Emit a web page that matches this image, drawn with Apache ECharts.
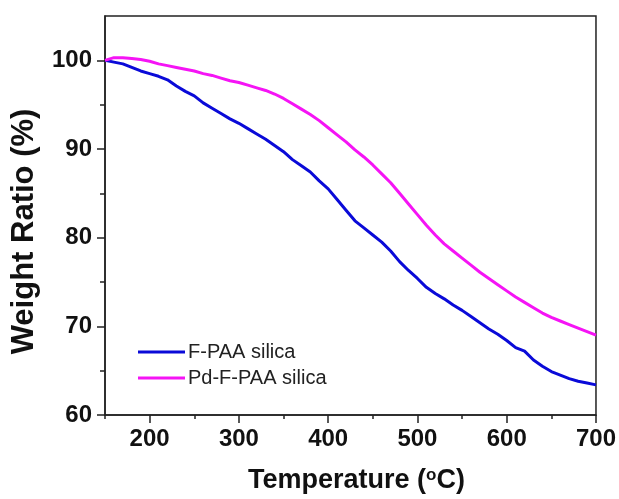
<!DOCTYPE html>
<html>
<head>
<meta charset="utf-8">
<script src="https://cdn.jsdelivr.net/npm/echarts@6/dist/echarts.min.js"></script>
<style>
  html, body { margin: 0; padding: 0; background: #fff; }
  #myChart { width: 619px; height: 499px; }
</style>
</head>
<body>
<div id="myChart"></div>
<script>
  // 温度 (°C)
  var temps = [150, 160, 170, 180, 190, 200, 210, 220, 230, 240, 250, 260, 270, 280, 290,
    300, 310, 320, 330, 340, 350, 360, 370, 380, 390, 400, 410, 420, 430, 440, 450,
    460, 470, 480, 490, 500, 510, 520, 530, 540, 550, 560, 570, 580, 590, 600, 610,
    620, 630, 640, 650, 660, 670, 680, 690, 700];
  var fpaa = [100.0, 99.8, 99.6, 99.2, 98.8, 98.5, 98.2, 97.8, 97.1, 96.5, 96.0, 95.2, 94.6, 94.0, 93.4,
    92.9, 92.3, 91.7, 91.1, 90.4, 89.7, 88.8, 88.1, 87.4, 86.4, 85.5, 84.3, 83.1, 81.9, 81.1, 80.3,
    79.5, 78.5, 77.3, 76.3, 75.4, 74.4, 73.7, 73.1, 72.4, 71.8, 71.1, 70.4, 69.7, 69.1, 68.4, 67.6,
    67.2, 66.2, 65.5, 64.9, 64.5, 64.1, 63.8, 63.6, 63.4];
  var pdfpaa = [100.0, 100.3, 100.3, 100.2, 100.1, 99.9, 99.6, 99.4, 99.2, 99.0, 98.8, 98.5, 98.3, 98.0, 97.7,
    97.5, 97.2, 96.9, 96.6, 96.2, 95.7, 95.1, 94.5, 93.9, 93.2, 92.4, 91.6, 90.8, 89.9, 89.1, 88.2,
    87.2, 86.2, 85.0, 83.8, 82.6, 81.4, 80.3, 79.3, 78.5, 77.7, 76.9, 76.1, 75.4, 74.7, 74.0, 73.3,
    72.7, 72.1, 71.5, 71.0, 70.6, 70.2, 69.8, 69.4, 69.0];
  var xMajor = [200, 300, 400, 500, 600, 700];
  var xMinor = [150, 250, 350, 450, 550, 650];
  var yMajor = [60, 70, 80, 90, 100];
  var yMinor = [65, 75, 85, 95];
  var legendData = ['F-PAA silica', 'Pd-F-PAA silica'];

  function pairs(ys) {
    return temps.map(function (t, i) { return [t, ys[i]]; });
  }

  var myChart = echarts.init(document.getElementById('myChart'));
  var fontFamily = 'Liberation Sans, Arial, sans-serif';
  var axisColor = '#222';

  var option = {
    animation: false,
    backgroundColor: '#fff',
    grid: {
      left: 105, right: 22, top: 16, bottom: 82,
      show: true,
      borderColor: axisColor,
      borderWidth: 1.5
    },
    legend: {
      orient: 'vertical',
      left: 133,
      top: 337,
      data: legendData,
      icon: 'rect',
      itemWidth: 47,
      itemHeight: 3,
      itemGap: 6,
      textStyle: { fontFamily: fontFamily, fontSize: 20, color: '#222', padding: [0, 0, 0, -2] }
    },
    xAxis: [{
      type: 'value',
      min: 150,
      max: 700,
      name: 'Temperature ({sup|o}C)',
      nameLocation: 'middle',
      nameGap: 52,
      nameTextStyle: {
        fontFamily: fontFamily, fontSize: 27, fontWeight: 'bold', color: '#111',
        padding: [0, 0, 0, 12],
        rich: {
          sup: { fontFamily: fontFamily, fontSize: 17, fontWeight: 'bold', color: '#111', verticalAlign: 'top', padding: [0, 0, 10, 0] }
        }
      },
      axisLine: { show: true, lineStyle: { color: axisColor, width: 1.5 } },
      axisTick: { show: true, length: 8, customValues: xMajor, lineStyle: { color: axisColor, width: 1.5 } },
      axisLabel: {
        customValues: xMajor, margin: 12,
        fontFamily: fontFamily, fontSize: 24, fontWeight: 'bold', color: '#111'
      },
      splitLine: { show: false }
    }, {
      type: 'value',
      min: 150,
      max: 700,
      position: 'bottom',
      axisLine: { show: false },
      axisTick: { show: true, length: 4, customValues: xMinor, lineStyle: { color: axisColor, width: 1.5 } },
      axisLabel: { show: false },
      splitLine: { show: false }
    }],
    yAxis: [{
      type: 'value',
      min: 60,
      max: 105,
      name: 'Weight Ratio (%)',
      nameLocation: 'middle',
      nameGap: 65,
      nameTextStyle: {
        fontFamily: fontFamily, fontSize: 31, fontWeight: 'bold', color: '#111',
        padding: [0, 32, 0, 0]
      },
      axisLine: { show: true, lineStyle: { color: axisColor, width: 1.5 } },
      axisTick: { show: true, length: 8, customValues: yMajor, lineStyle: { color: axisColor, width: 1.5 } },
      axisLabel: {
        customValues: yMajor, margin: 13,
        fontFamily: fontFamily, fontSize: 24, fontWeight: 'bold', color: '#111'
      },
      splitLine: { show: false }
    }, {
      type: 'value',
      min: 60,
      max: 105,
      position: 'left',
      axisLine: { show: false },
      axisTick: { show: true, length: 5, customValues: yMinor, lineStyle: { color: axisColor, width: 1.5 } },
      axisLabel: { show: false },
      splitLine: { show: false }
    }],
    series: [
      {
        name: legendData[0],
        type: 'line',
        showSymbol: false,
        color: '#0a0ad8',
        lineStyle: { width: 3, color: '#0a0ad8' },
        data: pairs(fpaa)
      },
      {
        name: legendData[1],
        type: 'line',
        showSymbol: false,
        color: '#f514f5',
        lineStyle: { width: 3, color: '#f514f5' },
        data: pairs(pdfpaa)
      }
    ]
  };
  myChart.setOption(option);
</script>
</body>
</html>
